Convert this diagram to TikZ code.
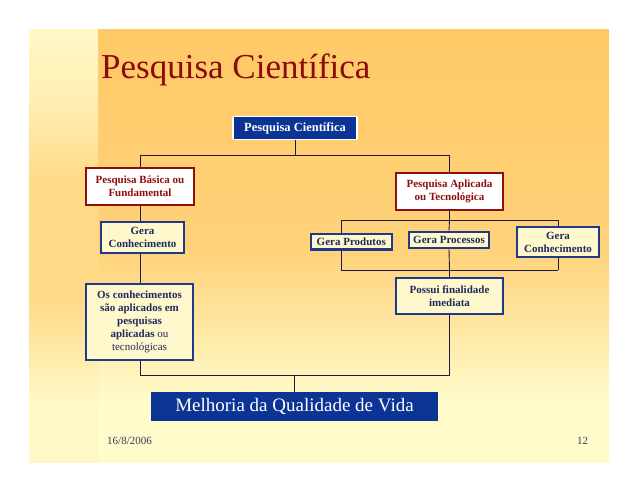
\documentclass[tikz,border=0pt]{standalone}
\usepackage{fontspec}
\setmainfont{Liberation Serif}
\begin{document}
\begin{tikzpicture}[x=1pt,y=-1pt,
  conn/.style={draw=linec, line width=0.9pt},
  topbox/.style={fill=pblue, draw=white, line width=1.3pt, text=white, inner sep=0pt,
    font=\bfseries\fontsize{12.5}{14}\selectfont},
  redbox/.style={fill=white, draw=pred, line width=2pt, text=pred, inner sep=0pt, align=center,
    font=\bfseries\fontsize{11}{13.3}\selectfont},
  ybox/.style={fill=boxy, draw=bblue, line width=2.4pt, text=navy, inner sep=0pt, align=center,
    font=\bfseries\fontsize{11}{13}\selectfont},
  bigbox/.style={fill=pblue, draw=none, text=white, inner sep=0pt,
    font=\fontsize{19}{22}\selectfont},
  foot/.style={text=footc, inner sep=0pt, font=\fontsize{11}{13}\selectfont}]
\definecolor{pblue}{HTML}{0B3494}
\definecolor{pred}{HTML}{8E0E0E}
\definecolor{bblue}{HTML}{1F3A8A}
\definecolor{navy}{HTML}{1E2A5E}
\definecolor{boxy}{HTML}{FFF8CC}
\definecolor{linec}{HTML}{1C1C3A}
\definecolor{footc}{HTML}{3A3A5A}
\definecolor{titlec}{HTML}{8B0A0A}
\definecolor{bgO}{HTML}{FFC966}
\definecolor{bgO2}{HTML}{FFD27A}
\definecolor{bgP}{HTML}{FFFBCB}
\definecolor{stP}{HTML}{FFF8C6}
\definecolor{stO}{HTML}{FFDA88}
\useasboundingbox (0,0) rectangle (638,493);
\fill[white] (0,0) rectangle (638,493);
% slide background
\shade[top color=bgO, bottom color=bgO2] (98,29) rectangle (609,250.5);
\shade[top color=bgO2, bottom color=bgP] (98,250) rectangle (609,400.5);
\fill[bgP] (98,400) rectangle (609,463);
% left strip
\shade[top color=stP, bottom color=stP!70!stO] (29,29) rectangle (98,100.5);
\shade[top color=stP!70!stO, bottom color=stO] (29,100) rectangle (98,180.5);
\fill[stO] (29,180) rectangle (98,300.5);
\shade[top color=stO, bottom color=stP] (29,300) rectangle (98,400.5);
\fill[stP] (29,400) rectangle (98,463);
% title
\node[anchor=base west, inner sep=0pt, text=titlec, font=\fontsize{35}{40}\selectfont] (title) at (101,78) {Pesquisa Científica};
% nodes
\node[topbox, minimum width=124pt, minimum height=22.6pt] (top) at (295,128) {Pesquisa Científica};
\node[redbox, minimum width=108pt, minimum height=37pt] (basica) at (140,186.5) {Pesquisa Básica ou\\Fundamental};
\node[ybox, minimum width=83pt, minimum height=31pt] (geraL) at (142.5,237.3) {Gera\\Conhecimento};
\node[redbox, minimum width=107pt, minimum height=37pt] (aplicada) at (449.5,191.5) {Pesquisa Aplicada\\ou Tecnológica};
\node[ybox, minimum width=81pt, minimum height=15.5pt] (produtos) at (351.3,241.7) {Gera Produtos};
\node[ybox, minimum width=80pt, minimum height=16.3pt] (processos) at (449,240) {Gera Processos};
\node[ybox, minimum width=82pt, minimum height=30pt] (conhecR) at (558,242) {Gera\\Conhecimento};
\node[ybox, minimum width=107pt, minimum height=36pt] (possui) at (449.5,296) {Possui finalidade\\imediata};
\node[ybox, minimum width=107pt, minimum height=76pt] (osconh) at (139.5,322)
  {Os conhecimentos\\são aplicados em\\pesquisas\\aplicadas {\mdseries ou}\\{\mdseries tecnológicas}};
\node[bigbox, minimum width=287pt, minimum height=29pt] (melhoria) at (294.5,406.3) {Melhoria da Qualidade de Vida};
\node[foot] (date) at (129.5,440.7) {16/8/2006};
\node[foot] (page) at (582.5,440.7) {12};
% junctions
\coordinate (j1) at (295,155);
\coordinate (j1l) at (140,155);
\coordinate (j1r) at (449.5,155);
\coordinate (j2) at (449.5,220);
\coordinate (j2l) at (341,220);
\coordinate (j2r) at (558,220);
\coordinate (j3l) at (341,270);
\coordinate (j3) at (449.5,270);
\coordinate (j3r) at (558,270);
\coordinate (j4l) at (140,375);
\coordinate (j4) at (294.5,375);
\coordinate (j4r) at (449.5,375);
% connectors
\draw[conn] (top.south) -- (j1);
\draw[conn] (j1l) -- (j1r);
\draw[conn] (j1l) -- (j1l |- basica.north);
\draw[conn] (j1r) -- (aplicada.north);
\draw[conn] (j1l |- basica.south) -- (j1l |- geraL.north);
\draw[conn] (j1l |- geraL.south) -- (j1l |- osconh.north);
\draw[conn] (aplicada.south) -- (j2);
\draw[conn] (j2l) -- (j2r);
\draw[conn] (j2l) -- (j2l |- produtos.north);
\draw[conn] (j2) -- (processos.north);
\draw[conn] (j2r) -- (conhecR.north);
\draw[conn] (j2l |- produtos.south) -- (j3l);
\draw[conn] (processos.south) -- (j3);
\draw[conn] (conhecR.south) -- (j3r);
\draw[conn] (j3l) -- (j3r);
\draw[conn] (j3) -- (possui.north);
\draw[conn] (j1l |- osconh.south) -- (j4l);
\draw[conn] (j4l) -- (j4r);
\draw[conn] (possui.south) -- (j4r);
\draw[conn] (j4) -- (melhoria.north);
\end{tikzpicture}
\end{document}
